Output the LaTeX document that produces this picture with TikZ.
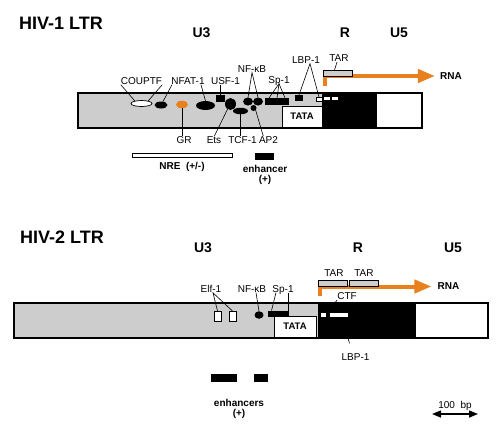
\documentclass[tikz,border=0pt]{standalone}
\usepackage{fontspec}
\setmainfont{Liberation Sans}
\usetikzlibrary{shapes.geometric,arrows.meta}
\definecolor{ltrgray}{RGB}{205,205,205}
\definecolor{ltrorange}{RGB}{232,128,30}
\begin{document}
\begin{tikzpicture}[x=1pt,y=-1pt,
  title/.style={font=\fontsize{18}{20}\selectfont\bfseries, inner sep=0},
  region/.style={font=\fontsize{14}{16}\selectfont\bfseries, inner sep=0, text depth=0pt},
  lbl/.style={font=\fontsize{10}{11}\selectfont, inner sep=0, text depth=0pt},
  rnalbl/.style={font=\fontsize{10}{11}\selectfont\bfseries, inner sep=0, text depth=0pt},
  blbl/.style={font=\fontsize{10}{10}\selectfont\bfseries, inner sep=0, align=center},
  bar/.style={draw, line width=1.3pt},
  tatabox/.style={draw, line width=0.9pt, fill=white, font=\fontsize{9.5}{10}\selectfont\bfseries, inner sep=0, outer sep=0},
  ell/.style={ellipse, inner sep=0, outer sep=0},
  sq/.style={rectangle, fill=black, inner sep=0, outer sep=0},
  wbox/.style={rectangle, draw, fill=white, line width=0.7pt, inner sep=0, outer sep=0},
  wfill/.style={rectangle, fill=white, inner sep=0, outer sep=0},
  tarbox/.style={rectangle, draw, fill=ltrgray, line width=0.8pt, inner sep=0, outer sep=0, minimum width=29pt, minimum height=6pt},
  conn/.style={line width=0.6pt},
  oarrow/.style={draw=ltrorange, line width=4pt, -{Triangle[length=17pt,width=13pt]}}
]
\fill[white] (0,0) rectangle (500,424);
\useasboundingbox (0,0) rectangle (500,424);

% ================= HIV-1 =================
\node[title] (t1) at (61,23.5) {HIV-1 LTR};
\node[region] (u3a) at (201.5,33) {U3};
\node[region] (ra) at (345,33) {R};
\node[region] (u5a) at (399,33) {U5};

\fill[ltrgray] (78,93) rectangle (322,128);
\fill[black] (322,93) rectangle (377,128);
\draw[bar] (78,93) rectangle (422,128);
\node[tatabox, minimum width=40pt, minimum height=21pt] (tata1) at (302,116.5) {TATA};

% binding sites
\node[ell, draw, fill=white, line width=0.7pt, minimum width=21pt, minimum height=6pt] (coup) at (141.5,103.5) {};
\node[ell, fill=black, minimum width=13pt, minimum height=7pt] (nfs) at (161,105) {};
\node[ell, fill=ltrorange, minimum width=12pt, minimum height=7.5pt] (gr) at (182,104.5) {};
\node[ell, fill=black, minimum width=19pt, minimum height=9pt] (nfb) at (205.5,105.5) {};
\node[sq, minimum width=9pt, minimum height=7pt] (usf) at (220.5,98.5) {};
\node[ell, fill=black, minimum width=11pt, minimum height=12pt] (ets) at (230.5,104) {};
\node[ell, fill=black, minimum width=15pt, minimum height=6.5pt] (tcf) at (240.5,111) {};
\node[ell, fill=black, minimum width=10pt, minimum height=8pt] (nfk1) at (248,101.5) {};
\node[ell, fill=black, minimum width=10pt, minimum height=8pt] (nfk2) at (258,101.5) {};
\node[circle, fill=black, inner sep=0, outer sep=0, minimum size=6pt] (ap2) at (253.5,108) {};
\node[sq, minimum width=7.5pt, minimum height=7pt] (spa) at (269,101.5) {};
\node[sq, minimum width=7.5pt, minimum height=7pt] (spb) at (277,101.5) {};
\node[sq, minimum width=7.5pt, minimum height=7pt] (spc) at (285,101.5) {};
\node[sq, minimum width=8pt, minimum height=6pt] (lbp) at (299,98) {};
\node[wbox, minimum width=6pt, minimum height=4pt] (lbpw) at (319,99) {};
\node[wfill, minimum width=6pt, minimum height=3.5pt] (wd1) at (327,98.5) {};
\node[wfill, minimum width=6pt, minimum height=3.5pt] (wd2) at (335,98.5) {};

% labels
\node[lbl] (coupL) at (141.5,81) {COUPTF};
\node[lbl] (nfatL) at (188,81) {NFAT-1};
\node[lbl] (usfL) at (225.5,81) {USF-1};
\node[lbl] (nfkbL) at (252,69) {NF-κB};
\node[lbl] (spL) at (279,80) {Sp-1};
\node[lbl] (lbpL) at (306,60) {LBP-1};
\node[lbl] (tarL) at (339,58.5) {TAR};
\node[rnalbl] (rna1) at (451,76) {RNA};
\node[lbl] (grL) at (184,140.5) {GR};
\node[lbl] (etsL) at (214,140.5) {Ets};
\node[lbl] (tcfL) at (242.5,140.5) {TCF-1};
\node[lbl] (ap2L) at (268.5,140.5) {AP2};

% connectors
\draw[conn] (coupL.south west) -- (coup.160);
\draw[conn] (coupL.south east) -- (coup.20);
\draw[conn] ([xshift=-16pt]nfatL.south) -- (nfs.60);
\draw[conn] ([xshift=13pt]nfatL.south) -- (nfb.north);
\draw[conn] (usf.north) -- (usf.north |- usfL.south);
\draw[conn] (nfk1.north) -- (nfkbL.south) -- (nfk2.north);
\draw[conn] (spa.north) -- (spL.south) -- (spc.north);
\draw[conn] (spL.south) -- (spb.north);
\draw[conn] (lbp.north) -- ([xshift=4pt]lbpL.south) -- (lbpw.north);
\draw[conn, shorten >=1pt] (gr.south) -- (gr.south |- grL.north);
\draw[conn, shorten >=1pt] (ets.240) -- (etsL.north);
\draw[conn, shorten >=1pt] (tcf.south) -- (tcf.south |- tcfL.north);
\draw[conn, shorten >=1pt] (ap2.south east) -- ([xshift=-5pt]ap2L.north);

% transcription arrow
\coordinate (tss1) at (324.5,86);
\draw[oarrow] (tss1) |- ([xshift=-5pt]rna1.west);
\node[tarbox] (tar1) at (337.5,73) {};
\draw[conn] ([xshift=-2pt]tarL.south) -- ([xshift=-3pt]tar1.north);

% NRE and enhancer
\node[wbox, line width=0.8pt, minimum width=100pt, minimum height=4pt] (nre) at (182,155) {};
\node[blbl, text depth=0pt] (nreL) at (182,165.5) {NRE\ \ (+/-)};
\node[sq, minimum width=19pt, minimum height=7pt] (enh) at (264.5,156.5) {};
\node[blbl, anchor=north] (enhL) at (265,165.5) {enhancer\\(+)};

% ================= HIV-2 =================
\node[title] (t2) at (62,237.5) {HIV-2 LTR};
\node[region] (u3b) at (203,247.5) {U3};
\node[region] (rb) at (358,247.5) {R};
\node[region] (u5b) at (453,247.5) {U5};

\fill[ltrgray] (14,303) rectangle (318,338);
\fill[black] (318,303) rectangle (416,338);
\draw[bar] (14,303) rectangle (488,338);
\node[tatabox, minimum width=42pt, minimum height=21pt] (tata2) at (295,326.5) {TATA};

\node[wbox, minimum width=7pt, minimum height=10pt] (elf1) at (217.5,316) {};
\node[wbox, minimum width=7pt, minimum height=10pt] (elf2) at (232.5,316) {};
\node[ell, fill=black, minimum width=9pt, minimum height=7.5pt] (nfk3) at (259,315) {};
\node[sq, minimum width=6.5pt, minimum height=6pt] (spd) at (271.5,313.5) {};
\node[sq, minimum width=6.5pt, minimum height=6pt] (spe) at (278.5,313.5) {};
\node[sq, minimum width=6.5pt, minimum height=6pt] (spf) at (285.5,313.5) {};
\node[wfill, minimum width=5pt, minimum height=4pt] (ctf) at (323.5,315) {};
\node[wfill, minimum width=18pt, minimum height=4pt] (lbp2) at (339,315) {};

\node[lbl] (elfL) at (211,289) {Elf-1};
\node[lbl] (nfkbL2) at (252,289) {NF-κB};
\node[lbl] (spL2) at (283,289) {Sp-1};
\node[lbl] (tarL2) at (334,273.5) {TAR};
\node[lbl] (tarL3) at (364,273.5) {TAR};
\node[rnalbl] (rna2) at (448.5,286.5) {RNA};
\node[lbl] (ctfL) at (347,295.5) {CTF};
\node[lbl] (lbpL2) at (355.5,357) {LBP-1};

\draw[conn] (elf1.north) -- ([xshift=2pt]elfL.south) -- (elf2.north);
\draw[conn] ([xshift=4pt]nfkbL2.south) -- (nfk3.north);
\draw[conn] ([xshift=-7pt]spL2.south) -- (spd.north);
\draw[conn] (spf.north east) -- (spf.north east |- spL2.south);
\draw[conn] ([yshift=-1pt]ctfL.south west) -- (ctf.north east);
\draw[conn] ([xshift=3pt]lbp2.south) -- ([xshift=-6pt,yshift=10pt]lbpL2.north);

\coordinate (tss2) at (319.5,296);
\draw[oarrow] (tss2) |- ([xshift=-6pt]rna2.west);
\node[tarbox] (tar2) at (332.5,283) {};
\node[tarbox] (tar3) at (363.5,283) {};

% enhancers
\node[sq, minimum width=26pt, minimum height=8pt] (enh2a) at (224,378) {};
\node[sq, minimum width=14pt, minimum height=8pt] (enh2b) at (261,378) {};
\node[blbl, anchor=north] (enh2L) at (239,399.5) {enhancers\\(+)};

% scale bar
\node[lbl] (bpL) at (455,404.5) {100\ \ bp};
\coordinate (bpa) at (432,414);
\coordinate (bpb) at (478,414);
\draw[line width=1.5pt, {Triangle[length=9pt,width=7pt]}-{Triangle[length=9pt,width=7pt]}] (bpa) -- (bpb);
\end{tikzpicture}
\end{document}
